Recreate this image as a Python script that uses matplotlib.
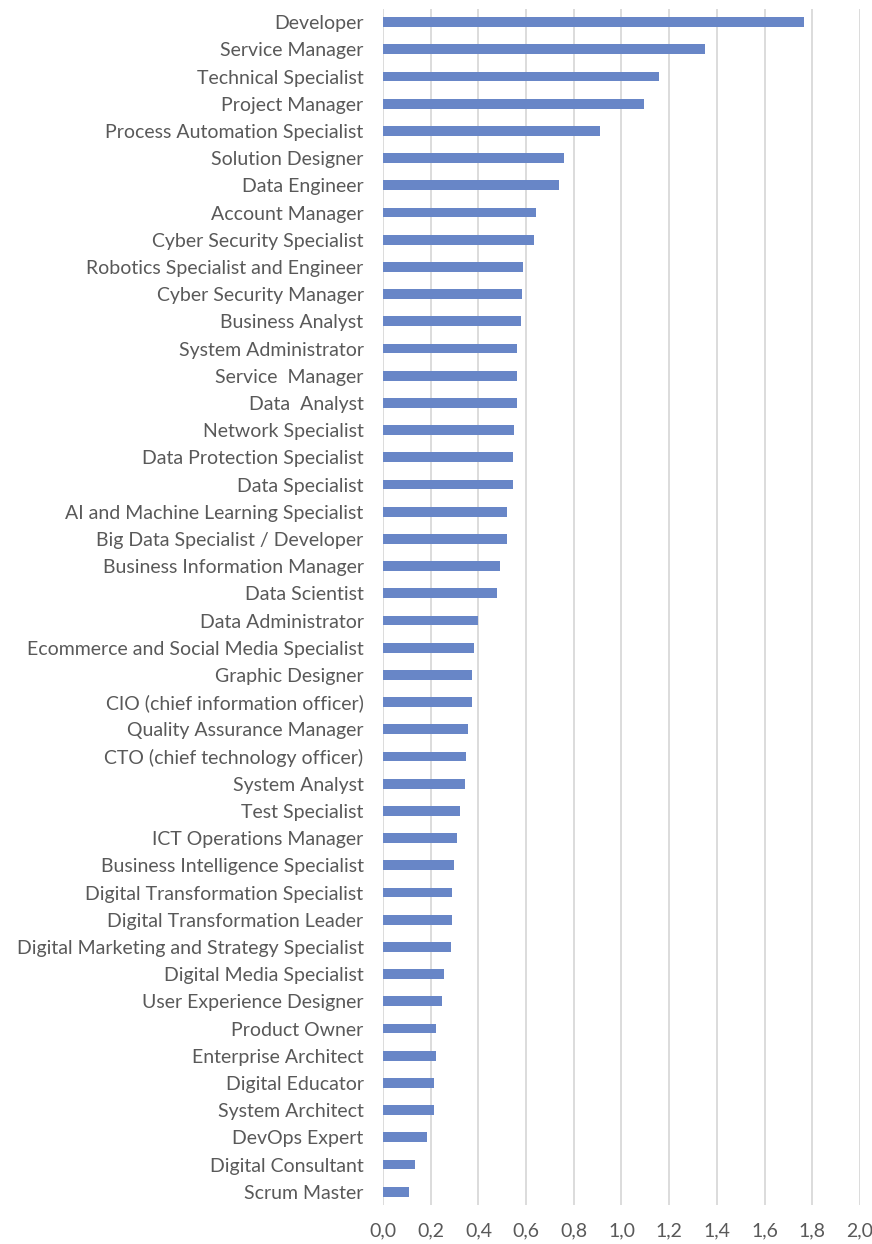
import matplotlib
matplotlib.use("Agg")
from matplotlib import pyplot as plt
from matplotlib.ticker import FuncFormatter

# job roles, top to bottom as in the chart
roles = [
    "Developer", "Service Manager", "Technical Specialist", "Project Manager",
    "Process Automation Specialist", "Solution Designer", "Data Engineer",
    "Account Manager", "Cyber Security Specialist",
    "Robotics Specialist and Engineer", "Cyber Security Manager",
    "Business Analyst", "System Administrator", "Service  Manager",
    "Data  Analyst", "Network Specialist", "Data Protection Specialist",
    "Data Specialist", "AI and Machine Learning Specialist",
    "Big Data Specialist / Developer", "Business Information Manager",
    "Data Scientist", "Data Administrator",
    "Ecommerce and Social Media Specialist", "Graphic Designer",
    "CIO (chief information officer)", "Quality Assurance Manager",
    "CTO (chief technology officer)", "System Analyst", "Test Specialist",
    "ICT Operations Manager", "Business Intelligence Specialist",
    "Digital Transformation Specialist", "Digital Transformation Leader",
    "Digital Marketing and Strategy Specialist", "Digital Media Specialist",
    "User Experience Designer", "Product Owner", "Enterprise Architect",
    "Digital Educator", "System Architect", "DevOps Expert",
    "Digital Consultant", "Scrum Master",
]

values = [
    1.767, 1.349, 1.158, 1.095, 0.908, 0.757, 0.739,
    0.640, 0.635, 0.589, 0.582, 0.580, 0.564, 0.564,
    0.560, 0.549, 0.545, 0.545, 0.521, 0.521, 0.489,
    0.478, 0.398, 0.380, 0.374, 0.372, 0.355, 0.348,
    0.344, 0.321, 0.310, 0.299, 0.291, 0.288, 0.284,
    0.254, 0.247, 0.222, 0.222, 0.214, 0.212, 0.184,
    0.134, 0.110,
]

x_ticks = [0.0, 0.2, 0.4, 0.6, 0.8, 1.0, 1.2, 1.4, 1.6, 1.8, 2.0]

text_color = "#595959"
bar_color = "#6886C7"
grid_color = "#D9D9D9"

plt.rcParams["font.family"] = ["Lato", "DejaVu Sans"]

fig = plt.figure(figsize=(8.72, 12.44), dpi=100)
ax = fig.add_axes([0.4392, 0.0311, 0.547, 0.962])

pos = list(range(len(roles)))
ax.barh(pos, values, height=0.36, color=bar_color, zorder=3)

ax.set_ylim(len(roles) - 0.5, -0.5)
ax.set_xlim(0, 2.0)
ax.set_yticks(pos)
ax.set_yticklabels(roles)
ax.set_xticks(x_ticks)
ax.xaxis.set_major_formatter(FuncFormatter(lambda v, _: f"{v:.1f}".replace(".", ",")))

ax.grid(axis="x", color=grid_color, linewidth=1.3, zorder=0)
for side in ["top", "right", "bottom", "left"]:
    ax.spines[side].set_visible(False)

ax.tick_params(axis="both", length=0, labelcolor=text_color, labelsize=14)
ax.tick_params(axis="y", pad=14)
ax.tick_params(axis="x", pad=12)

fig.savefig("out.png", dpi=100)
